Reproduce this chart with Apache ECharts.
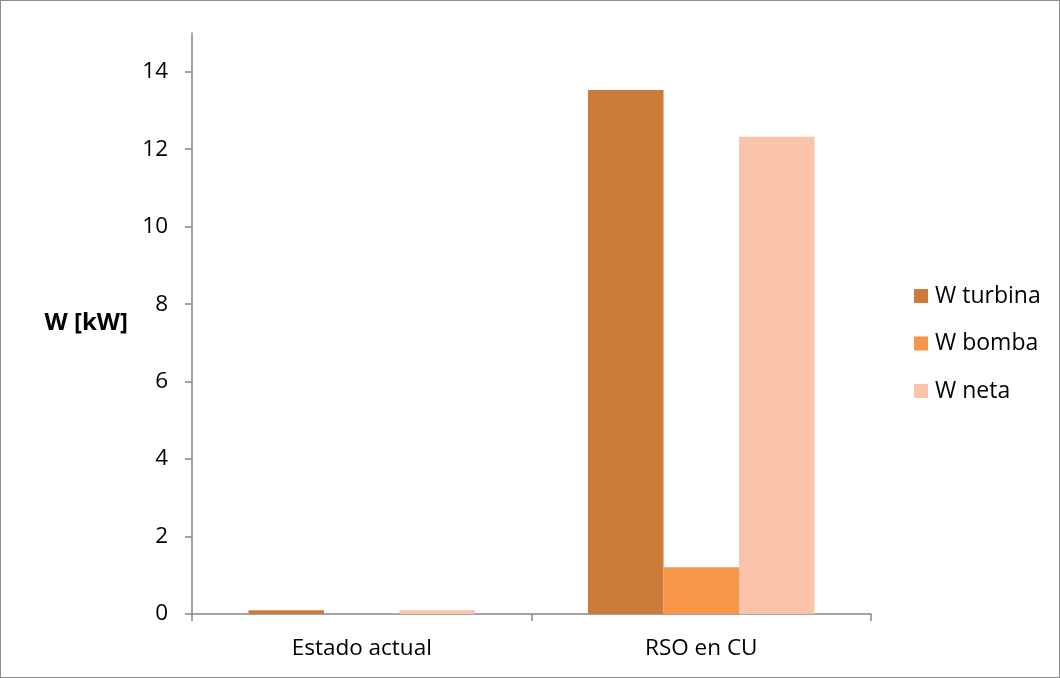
<!DOCTYPE html>
<html>
<head>
<meta charset="utf-8">
<script src="https://cdn.jsdelivr.net/npm/echarts@6/dist/echarts.min.js"></script>
<style>
  html, body { margin: 0; padding: 0; background: #ffffff; }
  #chart { width: 1058px; height: 676px; border: 1px solid #8c8c8c; }
</style>
</head>
<body>
<div id="chart"></div>
<script>
// Categories and power values (kW)
const categories = ['Estado actual', 'RSO en CU'];
const wTurbina = [0.10, 13.53];
const wBomba = [0.005, 1.21];
const wNeta = [0.095, 12.32];
const seriesNames = ['W turbina', 'W bomba', 'W neta'];
const yTicks = { min: 0, max: 15, interval: 2 };

const FONT = '"Open Sans", sans-serif';
const FONT_SIZE = 22.5;
const AXIS_COLOR = '#868686';

const chart = echarts.init(document.getElementById('chart'), null, { renderer: 'canvas' });

const barSeries = (name, data, color) => ({
  name,
  type: 'bar',
  data,
  barGap: '0%',
  barCategoryGap: '33.3%',
  itemStyle: { color },
  emphasis: { disabled: true }
});

chart.setOption({
  animation: false,
  textStyle: { fontFamily: FONT },
  grid: { left: 191, right: 188, top: 32, bottom: 63, containLabel: false },
  legend: {
    orient: 'vertical',
    left: 908,
    top: 278,
    icon: 'rect',
    itemWidth: 14,
    itemHeight: 14,
    itemGap: 23.5,
    textStyle: { fontFamily: FONT, fontSize: 23, color: '#000', lineHeight: 24, padding: [0, 0, 0, 2] },
    data: seriesNames
  },
  xAxis: {
    type: 'category',
    data: categories,
    axisLine: { lineStyle: { color: AXIS_COLOR, width: 1.5 } },
    axisTick: { show: true, length: 7, lineStyle: { color: AXIS_COLOR, width: 1.5 } },
    axisLabel: { color: '#000', fontSize: FONT_SIZE, fontFamily: FONT, margin: 23 },
    splitLine: { show: false }
  },
  yAxis: {
    type: 'value',
    min: yTicks.min,
    max: yTicks.max,
    interval: yTicks.interval,
    name: 'W [kW]',
    nameLocation: 'middle',
    nameRotate: 0,
    nameGap: 64,
    nameTextStyle: { color: '#000', fontSize: 24, fontWeight: 'bold', fontFamily: FONT },
    axisLine: { show: true, lineStyle: { color: AXIS_COLOR, width: 1.5 } },
    axisTick: { show: true, length: 7, lineStyle: { color: AXIS_COLOR, width: 1.5 } },
    axisLabel: {
      color: '#000', fontSize: FONT_SIZE, fontFamily: FONT, margin: 24,
      showMaxLabel: false,
      formatter: v => (v % yTicks.interval === 0 ? String(v) : '')
    },
    splitLine: { show: false }
  },
  series: [
    barSeries(seriesNames[0], wTurbina, '#CC7B39'),
    barSeries(seriesNames[1], wBomba, '#F79646'),
    barSeries(seriesNames[2], wNeta, '#F9C4A9')
  ]
});
</script>
</body>
</html>
